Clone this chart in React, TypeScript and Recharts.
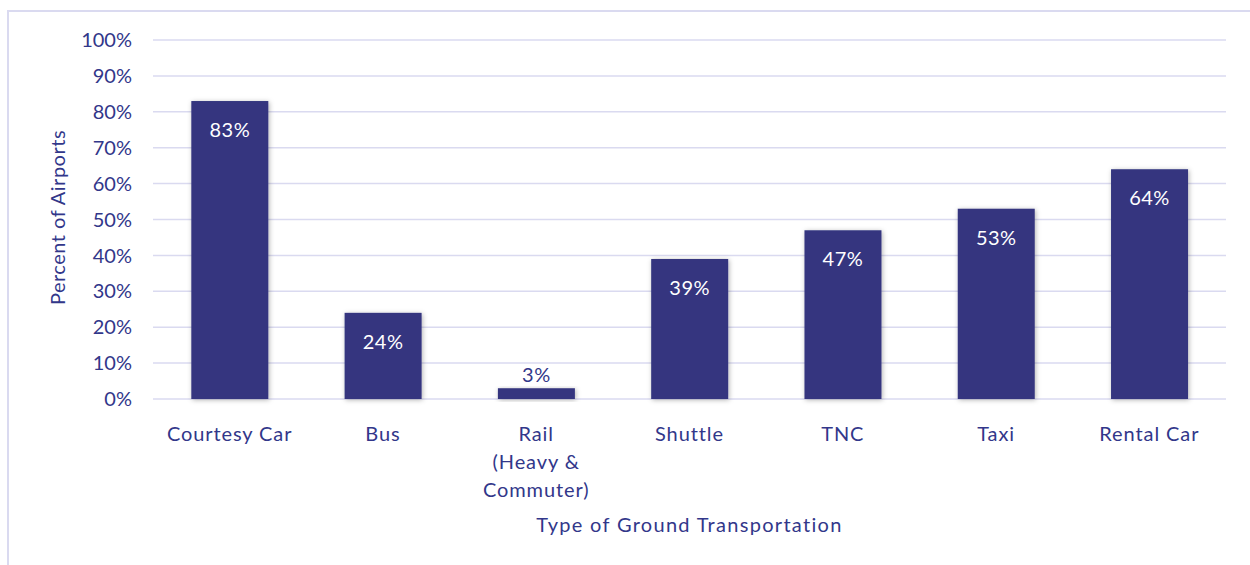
import { Bar, BarChart, CartesianGrid, Label, LabelList, XAxis, YAxis } from 'recharts';

const categories = ['Courtesy Car', 'Bus', 'Rail\n(Heavy &\nCommuter)', 'Shuttle', 'TNC', 'Taxi', 'Rental Car'];
const percentOfAirports = [83, 24, 3, 39, 47, 53, 64];
const yTicks = [0, 10, 20, 30, 40, 50, 60, 70, 80, 90, 100];

const data = categories.map((name, i) => ({ name, value: percentOfAirports[i] }));

const NAVY = '#32378a';
const BAR = '#34367f';
const GRID = '#dadaf0';
const FONT = 'Lato, "Noto Sans", sans-serif';

function CategoryTick({ x, y, payload }: any) {
  const lines = String(payload.value).split('\n');
  return (
    <text x={x} y={y + 40} textAnchor="middle" fill={NAVY} fontSize={20} fontFamily={FONT} letterSpacing={0.9}>
      {lines.map((line, i) => (
        <tspan key={i} x={x} dy={i === 0 ? 0 : 28}>
          {line}
        </tspan>
      ))}
    </text>
  );
}

function ValueLabel({ x, y, width, value }: any) {
  const cx = Number(x) + Number(width) / 2;
  const top = Number(y);
  if (value < 10) {
    return (
      <text x={cx} y={top - 6} textAnchor="middle" fill={NAVY} fontSize={20} fontFamily={FONT} letterSpacing={0.5}>
        {value}%
      </text>
    );
  }
  return (
    <text x={cx} y={top + 36} textAnchor="middle" fill="#ffffff" fontSize={20} fontFamily={FONT} letterSpacing={0.5}>
      {value}%
    </text>
  );
}

function ShadowBar({ x, y, width, height, fill }: any) {
  return <rect x={x} y={y} width={width} height={height} fill={fill} filter="url(#barShadow)" />;
}

export default function App() {
  return (
    <div style={{ position: 'absolute', left: 0, top: 0, width: 1250, height: 565, overflow: 'hidden', background: '#fff' }}>
      <svg width={0} height={0} style={{ position: 'absolute' }}>
        <defs>
          <filter id="barShadow" x="-20%" y="-20%" width="140%" height="140%">
            <feDropShadow dx="1" dy="1" stdDeviation="2.5" floodColor="#000" floodOpacity="0.3" />
          </filter>
        </defs>
      </svg>
      <div
        style={{
          position: 'absolute',
          left: 7,
          top: 10,
          width: 1300,
          height: 600,
          borderLeft: `2px solid ${GRID}`,
          borderTop: `2px solid ${GRID}`,
        }}
      />
      <div style={{ position: 'absolute', left: 0, top: 0 }}>
        <BarChart
          width={1250}
          height={565}
          data={data}
          margin={{ top: 40, right: 24, left: 53, bottom: 26 }}
          barCategoryGap="25%"
        >
          <CartesianGrid vertical={false} stroke={GRID} strokeWidth={1.5} />
          <XAxis
            dataKey="name"
            axisLine={false}
            tickLine={false}
            tickSize={0}
            height={140}
            interval={0}
            tick={<CategoryTick />}
          >
            <Label
              content={({ viewBox }: any) => (
                <text
                  x={viewBox.x + viewBox.width / 2}
                  y={viewBox.y + 133}
                  textAnchor="middle"
                  fill={NAVY}
                  fontSize={20}
                  fontFamily={FONT}
                  letterSpacing={1.3}
                >
                  Type of Ground Transportation
                </text>
              )}
            />
          </XAxis>
          <YAxis
            width={100}
            domain={[0, 100]}
            ticks={yTicks}
            axisLine={false}
            tickLine={false}
            tickSize={0}
            tickMargin={21}
            tickFormatter={(v) => `${v}%`}
            tick={{ fill: NAVY, fontSize: 20, fontFamily: FONT }}
          >
            <Label
              content={({ viewBox }: any) => {
                const lx = viewBox.x + 4;
                const ly = viewBox.y + viewBox.height / 2 - 2;
                return (
                  <text
                    x={lx}
                    y={ly}
                    transform={`rotate(-90 ${lx} ${ly})`}
                    textAnchor="middle"
                    dominantBaseline="central"
                    fill={NAVY}
                    fontSize={20}
                    fontFamily={FONT}
                    letterSpacing={0.5}
                  >
                    Percent of Airports
                  </text>
                );
              }}
            />
          </YAxis>
          <Bar dataKey="value" fill={BAR} isAnimationActive={false} shape={<ShadowBar />}>
            <LabelList dataKey="value" content={<ValueLabel />} />
          </Bar>
        </BarChart>
      </div>
    </div>
  );
}
